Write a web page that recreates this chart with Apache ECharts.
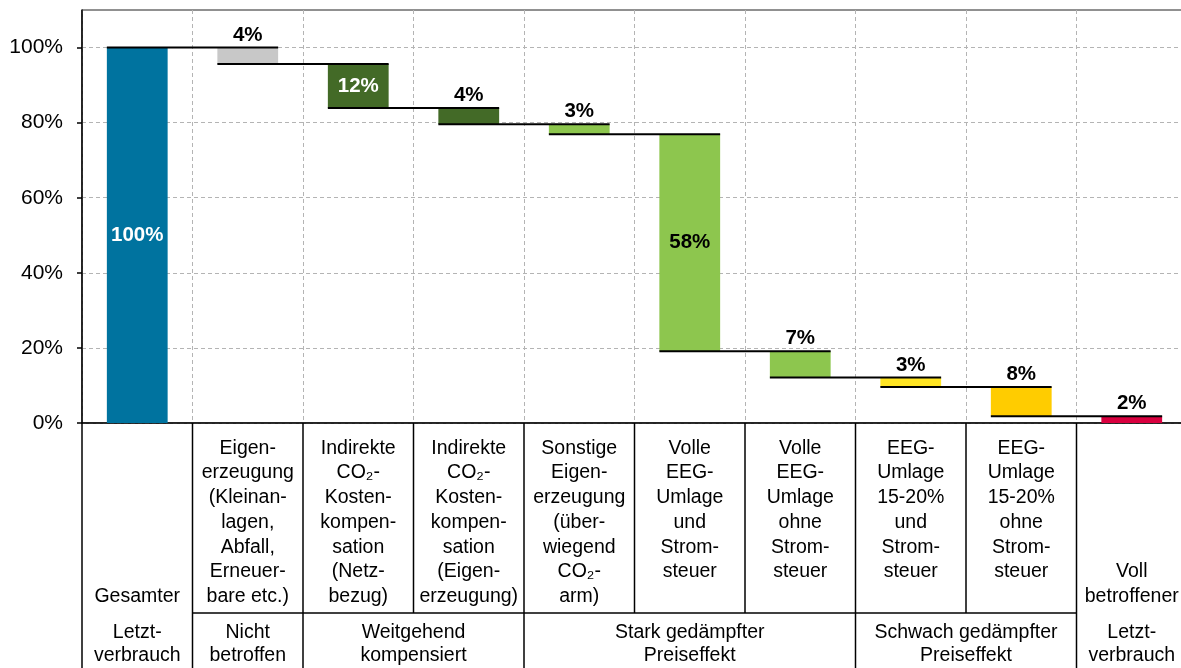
<!DOCTYPE html>
<html>
<head>
    <meta charset="utf-8">
    <title>Letztverbrauch</title>
    <script src="https://cdn.jsdelivr.net/npm/echarts@6/dist/echarts.min.js"></script>
    <style>
        html, body { margin: 0; padding: 0; background: #fff; }
        #chart { width: 1181px; height: 668px; }
    </style>
</head>
<body>
    <div id="chart"></div>
    <script>
        var categories = [
            '\n\n\n\n\n\nGesamter',
            'Eigen-\nerzeugung\n(Kleinan-\nlagen,\nAbfall,\nErneuer-\nbare etc.)',
            'Indirekte\nCO₂-\nKosten-\nkompen-\nsation\n(Netz-\nbezug)',
            'Indirekte\nCO₂-\nKosten-\nkompen-\nsation\n(Eigen-\nerzeugung)',
            'Sonstige\nEigen-\nerzeugung\n(über-\nwiegend\nCO₂-\narm)',
            'Volle\nEEG-\nUmlage\nund\nStrom-\nsteuer',
            'Volle\nEEG-\nUmlage\nohne\nStrom-\nsteuer',
            'EEG-\nUmlage\n15-20%\nund\nStrom-\nsteuer',
            'EEG-\nUmlage\n15-20%\nohne\nStrom-\nsteuer',
            '\n\n\n\n\nVoll\nbetroffener'
        ];
        // share of total consumption, first bar is the total, last is the rest
        var shares = [100, 4.4, 11.7, 4.3, 2.7, 57.8, 7.0, 2.5, 7.8, 1.8];
        var shareLabels = ['100%', '4%', '12%', '4%', '3%', '58%', '7%', '3%', '8%', '2%'];
        var barColors = ['#00739f', '#c8c8c8', '#436a27', '#436a27', '#8dc64e',
            '#8dc64e', '#8dc64e', '#ffe524', '#ffcc00', '#d9003f'];
        var yTicks = [0, 20, 40, 60, 80, 100];
        var groupLabels = ['Letzt-\nverbrauch', 'Nicht\nbetroffen', 'Weitgehend\nkompensiert',
            'Stark gedämpfter\nPreiseffekt', 'Schwach gedämpfter\nPreiseffekt', 'Letzt-\nverbrauch'];
        var groupStarts = [0, 1, 2, 4, 7, 9];
        var groupEnds = [1, 2, 4, 7, 9, 10];

        var font = 'Liberation Sans, Arial, sans-serif';

        // waterfall: base under each bar and the level each step ends on
        var base = [], levels = [];
        var level = shares[0];
        shares.forEach(function(v, i) {
            if (i === 0) {
                base.push(0);
            } else {
                base.push(level - v);
                level = level - v;
            }
            levels.push(i === 0 ? shares[0] : level);
        });

        var insideWhite = { 0: true, 2: true };
        var insideBlack = { 5: true };
        var barData = shares.map(function(v, i) {
            var lab = {
                show: true,
                formatter: shareLabels[i],
                fontFamily: font,
                fontWeight: 'bold',
                fontSize: 20.5,
                color: '#000',
                position: 'top',
                distance: 2
            };
            if (insideWhite[i]) { lab.position = 'inside'; lab.color = '#fff'; }
            if (insideBlack[i]) { lab.position = 'inside'; }
            return { value: v, itemStyle: { color: barColors[i] }, label: lab };
        });

        var connectors = [];
        for (var i = 0; i < shares.length - 1; i++) {
            connectors.push([i, levels[i]]);
        }

        var chart = echarts.init(document.getElementById('chart'));
        chart.setOption({
            animation: false,
            grid: {
                left: 82,
                width: 1105,
                top: 10,
                bottom: 245,
                outerBoundsMode: 'none',
                show: true,
                borderColor: '#222',
                borderWidth: 1
            },
            xAxis: {
                type: 'category',
                data: categories,
                axisLine: { lineStyle: { color: '#000', width: 1.5 } },
                axisTick: { show: false },
                axisLabel: {
                    interval: 0,
                    margin: 13,
                    fontFamily: font,
                    fontSize: 19.5,
                    lineHeight: 24.7,
                    color: '#000',
                    align: 'center'
                },
                splitLine: {
                    show: true,
                    interval: 0,
                    lineStyle: { color: '#b4b4b4', type: [4, 3], width: 1 }
                }
            },
            yAxis: {
                type: 'value',
                min: 0,
                max: 110,
                interval: 20,
                axisLine: { show: true, lineStyle: { color: '#000', width: 1.5 } },
                axisTick: { show: true, length: 5, customValues: yTicks, lineStyle: { color: '#000', width: 1.5 } },
                axisLabel: {
                    customValues: yTicks,
                    formatter: function(v) { return v + '%'; },
                    margin: 19,
                    fontFamily: font,
                    fontSize: 21,
                    color: '#000'
                },
                splitLine: { lineStyle: { color: '#b4b4b4', type: [4, 3], width: 1 } }
            },
            series: [{
                type: 'bar',
                stack: 'w',
                barWidth: '55%',
                silent: true,
                itemStyle: { color: 'transparent' },
                data: base
            }, {
                type: 'bar',
                stack: 'w',
                barWidth: '55%',
                silent: true,
                data: barData
            }, {
                type: 'custom',
                silent: true,
                z: 5,
                renderItem: function(params, api) {
                    var from = api.coord([api.value(0), api.value(1)]);
                    var to = api.coord([api.value(0) + 1, api.value(1)]);
                    var half = api.size([1, 0])[0] * 0.55 / 2;
                    return {
                        type: 'line',
                        shape: { x1: from[0] - half, y1: from[1], x2: to[0] + half, y2: to[1] },
                        style: { stroke: '#000', lineWidth: 2 }
                    };
                },
                encode: { x: 0, y: 1 },
                data: connectors
            }]
        });

        // table below the axis: category cells and group row
        var c0 = chart.convertToPixel({ xAxisIndex: 0 }, 0);
        var band = chart.convertToPixel({ xAxisIndex: 0 }, 1) - c0;
        function edge(k) { return c0 - band / 2 + k * band; }
        var axisY = chart.convertToPixel({ yAxisIndex: 0 }, 0);
        var rowY = axisY + 190;
        var bottomY = 668;
        var pen = { stroke: '#000', lineWidth: 1.5 };

        var elements = [{
            type: 'line',
            silent: true,
            shape: { x1: edge(1), y1: rowY, x2: edge(9), y2: rowY },
            style: pen
        }];
        for (var k = 0; k <= categories.length; k++) {
            elements.push({
                type: 'line',
                silent: true,
                shape: { x1: edge(k), y1: axisY, x2: edge(k), y2: rowY },
                style: pen
            });
        }
        groupStarts.forEach(function(s, g) {
            elements.push({
                type: 'line',
                silent: true,
                shape: { x1: edge(s), y1: rowY, x2: edge(s), y2: bottomY },
                style: pen
            });
            elements.push({
                type: 'text',
                silent: true,
                x: (edge(s) + edge(groupEnds[g])) / 2,
                y: rowY + 31,
                style: {
                    text: groupLabels[g],
                    font: '19.5px ' + font,
                    fill: '#000',
                    align: 'center',
                    verticalAlign: 'middle',
                    lineHeight: 23.5
                }
            });
        });
        chart.setOption({ graphic: elements });
    </script>
</body>
</html>
